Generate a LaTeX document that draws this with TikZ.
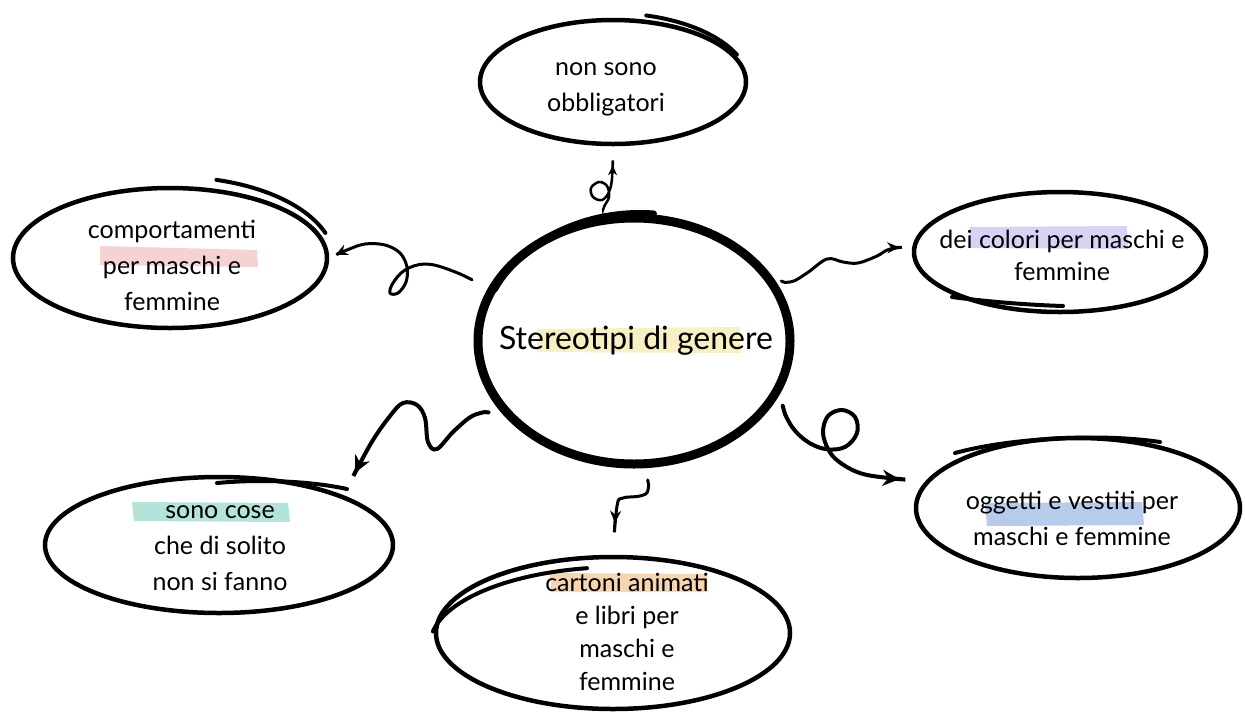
\documentclass[tikz,border=0pt]{standalone}
\usepackage{fontspec}
\setmainfont{Lato}
\usetikzlibrary{shapes.geometric,arrows.meta}
\begin{document}
\begin{tikzpicture}[x=1pt,y=-1pt,
  bub/.style={ellipse, draw, line width=4.5pt, inner sep=0pt},
  lbl/.style={align=center, inner sep=0pt, font=\fontsize{25}{36}\selectfont},
  conn/.style={line width=3pt, line cap=round, -{Stealth[length=12pt,width=11pt]}},
  bigconn/.style={line width=4pt, line cap=round, -{Stealth[length=17pt,width=16pt]}},
  extra/.style={line width=4pt, line cap=round},
  hl/.style={draw=none}]
\useasboundingbox[fill=white] (0,0) rectangle (1245,713);
% highlights
\fill[hl, fill={rgb,255:red,248;green,240;blue,196}] (537,329) -- (740,327) -- (741,353) -- (537,352) -- cycle;
\fill[hl, fill={rgb,255:red,245;green,211;blue,211}] (100,246) -- (257,250) -- (258,267) -- (100,265) -- cycle;
\fill[hl, fill={rgb,255:red,216;green,211;blue,245}] (970,227) -- (1127,226) -- (1128,249) -- (970,248) -- cycle;
\fill[hl, fill={rgb,255:red,179;green,227;blue,217}] (132,502) -- (288,503) -- (290,522) -- (134,521) -- cycle;
\fill[hl, fill={rgb,255:red,248;green,213;blue,177}] (550,573) -- (707,574) -- (707,592) -- (551,592) -- cycle;
\fill[hl, fill={rgb,255:red,183;green,204;blue,236}] (985,503) -- (1142,502) -- (1144,525) -- (987,526) -- cycle;
% bubbles
\node[bub, minimum width=312pt, minimum height=246pt, line width=9pt] (c) at (634,341) {};
\node[bub, minimum width=266pt, minimum height=124pt] (tp) at (613,82) {};
\node[bub, minimum width=314pt, minimum height=140pt] (ul) at (170,258) {};
\node[bub, minimum width=292pt, minimum height=120pt] (rt) at (1060,252) {};
\node[bub, minimum width=324pt, minimum height=140pt] (lr) at (1078,508) {};
\node[bub, minimum width=348pt, minimum height=136pt] (ll) at (219,545) {};
\node[bub, minimum width=354pt, minimum height=152pt] (bt) at (613,633) {};
% extra strokes
\draw[extra, line width=6pt] ([shift={(-155:160 and 132)}]640,345) arc[start angle=-155, end angle=-85, x radius=160, y radius=132];
\draw[extra] ([shift={(-75:140 and 72)}]610,85) arc[start angle=-75, end angle=-25, x radius=140, y radius=72];
\draw[extra] ([shift={(-75:160 and 85)}]175,262) arc[start angle=-75, end angle=-20, x radius=160, y radius=85];
\draw[extra] (952,297) .. controls (990,302) and (1030,305) .. (1063,306);
\draw[extra] (955,453) .. controls (1010,438) and (1100,433) .. (1160,442);
\draw[extra] (217,483) .. controls (260,479) and (310,481) .. (347,489);
\draw[extra] ([shift={(-170:190 and 78)}]620,645) arc[start angle=-170, end angle=-100, x radius=190, y radius=78];
% texts
\node[lbl, font=\fontsize{32}{40}\selectfont] (ct) at (636,341) {Stereotipi di genere};
\node[lbl] (ttp) at (606,89) {non sono\\obbligatori};
\node[lbl] (tul) at (172,265) {comportamenti\\per maschi e\\femmine};
\node[lbl, font=\fontsize{25}{32}\selectfont] (trt) at (1062,255) {dei colori per maschi e\\femmine};
\node[lbl] (tlr) at (1072,518) {oggetti e vestiti per\\maschi e femmine};
\node[lbl] (tll) at (220,548) {sono cose\\che di solito\\non si fanno};
\node[lbl, font=\fontsize{25}{33}\selectfont] (tbt) at (627,632) {cartoni animati\\e libri per\\maschi e\\femmine};
% connectors
\draw[conn, line width=2.5pt, -{Stealth[length=10pt,width=9pt]}, shorten <=7pt, shorten >=19pt] plot[smooth, tension=0.6] coordinates {(c.104) (604,207) (609,197) (607,186) (599,182) (591,188) (593,197) (602,200) (609,192) (612,178) (tp.south)};
\draw[conn, shorten <=18pt, shorten >=7pt] plot[smooth, tension=0.6] coordinates {(c.160) (450,270) (425,264) (405,270) (393,283) (390,293) (398,293) (406,282) (407,267) (400,253) (385,245) (365,244) (347,250) (ul.east)};
\draw[conn, shorten <=10pt, shorten >=13pt] plot[smooth, tension=0.6] coordinates {(c.25) (790,282) (807,273) (827,259) (843,262) (858,263) (877,256) (890,249) (rt.178)};
\draw[bigconn, shorten <=16pt, shorten >=25pt] plot[smooth, tension=0.6] coordinates {(c.210) (477,414) (455,430) (437,449) (428,442) (425,418) (417,405) (403,403) (390,416) (370,445) (ll.north east)};
\draw[bigconn, shorten <=12pt, shorten >=26pt] plot[smooth, tension=0.6] coordinates {(c.-20) (789,422) (805,440) (825,449) (845,447) (857,433) (855,417) (842,410) (828,416) (823,432) (828,449) (838,461) (857,472) (880,477) (lr.170)};
\draw[conn, shorten <=12pt, shorten >=32pt] plot[smooth, tension=0.6] coordinates {(c.275) (648,490) (640,496) (623,498) (617,506) (bt.north)};
\end{tikzpicture}
\end{document}
